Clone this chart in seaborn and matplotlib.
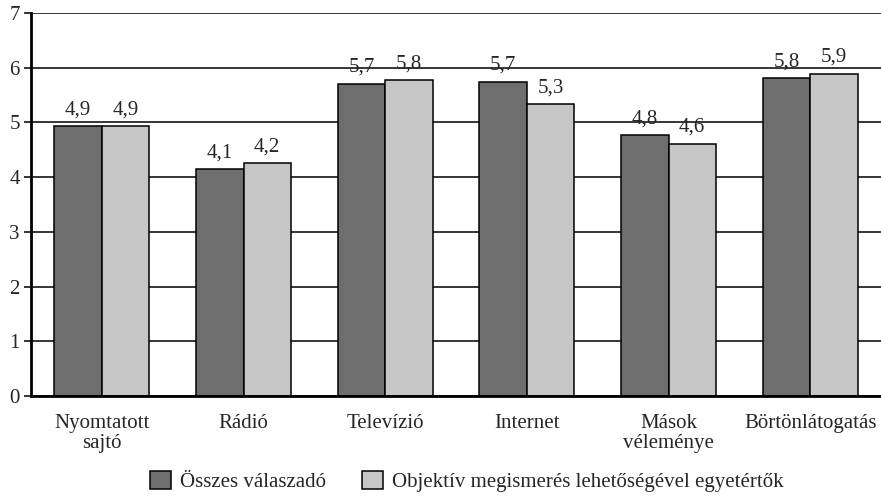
import matplotlib
matplotlib.use("Agg")
import matplotlib.pyplot as plt
import seaborn as sns
import pandas as pd

categories = ["Nyomtatott\nsajtó", "Rádió", "Televízió", "Internet", "Mások\nvéleménye", "Börtönlátogatás"]
series_names = ["Összes válaszadó", "Objektív megismerés lehetőségével egyetértők"]
all_resp = [4.93, 4.14, 5.71, 5.74, 4.77, 5.81]
agree = [4.93, 4.25, 5.77, 5.33, 4.61, 5.89]
all_labels = ["4,9", "4,1", "5,7", "5,7", "4,8", "5,8"]
agree_labels = ["4,9", "4,2", "5,8", "5,3", "4,6", "5,9"]
colors = ["#6e6e6e", "#c6c6c6"]

df = pd.DataFrame({
    "cat": categories * 2,
    "series": [series_names[0]] * 6 + [series_names[1]] * 6,
    "val": all_resp + agree,
})

sns.set_style("white")
plt.rcParams["font.family"] = ["Liberation Serif", "DejaVu Serif"]
FS = 15

fig = plt.figure(figsize=(8.81, 4.96), dpi=100)
ax = fig.add_axes([0.0352, 0.2016, 0.9648, 0.7722])
sns.barplot(data=df, x="cat", y="val", hue="series", palette=colors,
            width=0.67, edgecolor="black", linewidth=1.1, ax=ax, saturation=1,
            legend=True)

for cont, labs in zip(ax.containers, [all_labels, agree_labels]):
    ax.bar_label(cont, labels=labs, padding=5, fontsize=FS)

ax.set_ylim(0, 7)
ax.set_xlim(-0.5, 5.5)
ax.set_yticks(range(8))
ax.yaxis.grid(True, color="black", linewidth=1.1)
ax.set_axisbelow(True)
for s in ["top", "right"]:
    ax.spines[s].set_visible(False)
for s in ["left", "bottom"]:
    ax.spines[s].set_color("black")
    ax.spines[s].set_linewidth(2)
ax.tick_params(axis="y", length=5, width=1.1, color="black", labelsize=FS, pad=3, left=True)
ax.tick_params(axis="x", length=0, labelsize=FS, pad=13)
for t in ax.get_xticklabels():
    t.set_linespacing(1.1)
ax.set_xlabel("")
ax.set_ylabel("")

ax.legend_.remove()
handles = [plt.Rectangle((0, 0), 1, 1, facecolor=c, edgecolor="black", linewidth=1.1) for c in colors]
fig.legend(handles, series_names, loc="lower center", bbox_to_anchor=(0.530, -0.03),
           ncol=2, frameon=False, fontsize=FS, handlelength=1.0, handleheight=1.0,
           handletextpad=0.45, columnspacing=1.7)

fig.savefig("out.png", dpi=100)
